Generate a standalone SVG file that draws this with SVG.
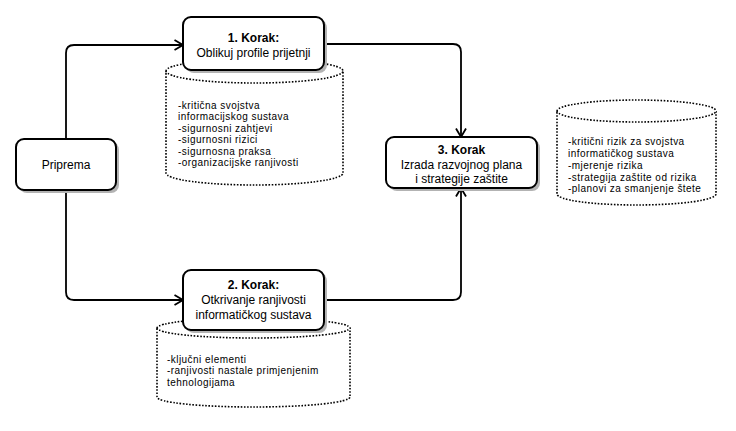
<svg xmlns="http://www.w3.org/2000/svg" width="736" height="431" viewBox="0 0 736 431">
<defs>
<marker id="arr" viewBox="0 0 10 12" refX="9.5" refY="6" markerWidth="10" markerHeight="12" markerUnits="userSpaceOnUse" orient="auto">
<path d="M1,1 L9.5,6 L1,11" fill="none" stroke="#000" stroke-width="1.8"/>
</marker>
</defs>
<style>
.box{fill:#fff;stroke:#000;stroke-width:2}
.shadow{fill:#b3b3b3}
.cyl{fill:#fff;stroke:#000;stroke-width:1.6;stroke-dasharray:1.6 1.6}
.conn{fill:none;stroke:#000;stroke-width:1.8;stroke-linejoin:round}
.t{font-family:"Liberation Sans",Arial,sans-serif;font-size:12px;fill:#000;text-anchor:middle}
.b{font-weight:bold}
.s{font-family:"Liberation Sans",Arial,sans-serif;font-size:10px;fill:#000;letter-spacing:0.45px}
</style>
<rect width="736" height="431" fill="#fff"/>

<g id="db1">
<path class="cyl" d="M166,71 A88.5,12 0 0 1 343,71 L343,173 A88.5,12 0 0 1 166,173 Z"/>
<path class="cyl" fill="none" d="M166,71 A88.5,12 0 0 0 343,71"/>
<text class="s"><tspan x="178" y="108.5">-kritična svojstva</tspan><tspan x="178" y="120">informacijskog sustava</tspan><tspan x="178" y="131.5">-sigurnosni zahtjevi</tspan><tspan x="178" y="143">-sigurnosni rizici</tspan><tspan x="178" y="154.5">-sigurnosna praksa</tspan><tspan x="178" y="166">-organizacijske ranjivosti</tspan></text>
</g>

<g id="db2">
<path class="cyl" d="M157,328 A96.5,10 0 0 1 350,328 L350,397 A96.5,10 0 0 1 157,397 Z"/>
<path class="cyl" fill="none" d="M157,328 A96.5,10 0 0 0 350,328"/>
<text class="s"><tspan x="167" y="362.5">-ključni elementi</tspan><tspan x="167" y="374">-ranjivosti nastale primjenjenim</tspan><tspan x="167" y="385.5">tehnologijama</tspan></text>
</g>

<g id="db3">
<path class="cyl" d="M557,111 A79.5,11 0 0 1 716,111 L716,194 A79.5,11 0 0 1 557,194 Z"/>
<path class="cyl" fill="none" d="M557,111 A79.5,11 0 0 0 716,111"/>
<text class="s"><tspan x="568" y="145">-kritični rizik za svojstva</tspan><tspan x="568" y="157">informatičkog sustava</tspan><tspan x="568" y="169">-mjerenje rizika</tspan><tspan x="568" y="180.5">-strategija zaštite od rizika</tspan><tspan x="568" y="192">-planovi za smanjenje štete</tspan></text>
</g>

<g id="connectors">
<path class="conn" d="M66,139 L66,53 Q66,45 74,45 L183,45" marker-end="url(#arr)"/>
<path class="conn" d="M66,190 L66,292 Q66,300 74,300 L183,300" marker-end="url(#arr)"/>
<path class="conn" d="M324,44 L453,44 Q461,44 461,52 L461,137" marker-end="url(#arr)"/>
<path class="conn" d="M324,300 L453,300 Q461,300 461,292 L461,188" marker-end="url(#arr)"/>
</g>

<g id="priprema">
<rect class="shadow" x="19" y="142" width="100" height="51" rx="8"/>
<rect class="box" x="16" y="139" width="100" height="51" rx="8"/>
<text class="t" x="66" y="169">Priprema</text>
</g>

<g id="korak1">
<rect class="shadow" x="186" y="20" width="141" height="53" rx="8"/>
<rect class="box" x="183" y="17" width="141" height="53" rx="8"/>
<text class="t b" x="253.5" y="42">1. Korak:</text>
<text class="t" x="253.5" y="57">Oblikuj profile prijetnji</text>
</g>

<g id="korak2">
<rect class="shadow" x="186" y="273" width="141" height="60" rx="8"/>
<rect class="box" x="183" y="270" width="141" height="60" rx="8"/>
<text class="t b" x="253.5" y="289">2. Korak:</text>
<text class="t" x="253.5" y="303.5">Otkrivanje ranjivosti</text>
<text class="t" x="253.5" y="318.5">informatičkog sustava</text>
</g>

<g id="korak3">
<rect class="shadow" x="389" y="140" width="151" height="51" rx="8"/>
<rect class="box" x="386" y="137" width="151" height="51" rx="8"/>
<text class="t b" x="461.5" y="154">3. Korak</text>
<text class="t" x="461.5" y="168.5">Izrada razvojnog plana</text>
<text class="t" x="461.5" y="183">i strategije zaštite</text>
</g>
</svg>
